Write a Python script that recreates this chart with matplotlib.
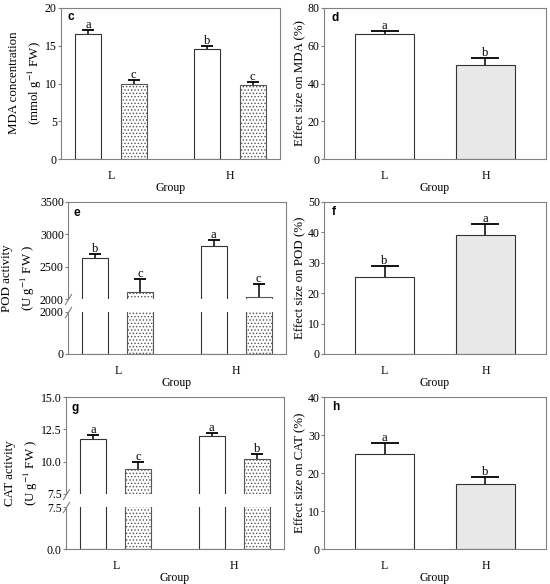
import numpy as np
import matplotlib
matplotlib.use('Agg')
import matplotlib.pyplot as plt
from matplotlib.lines import Line2D
from matplotlib.ticker import FormatStrFormatter

plt.rcParams['font.family'] = ['Liberation Serif', 'DejaVu Serif']
plt.rcParams['mathtext.fontset'] = 'stix'
plt.rcParams['font.size'] = 8.5
plt.rcParams['axes.edgecolor'] = '#808080'
plt.rcParams['axes.linewidth'] = 0.8
plt.rcParams['ytick.color'] = '#808080'
plt.rcParams['ytick.labelcolor'] = 'black'
plt.rcParams['ytick.major.size'] = 2
plt.rcParams['ytick.major.width'] = 0.8
plt.rcParams['ytick.major.pad'] = 1
plt.rcParams['hatch.linewidth'] = 0.6

groups = ['L', 'H']

# MDA
mda_ctrl = [16.55, 14.6]
mda_ctrl_err = [0.55, 0.4]
mda_trt = [9.9, 9.75]
mda_trt_err = [0.5, 0.5]
mda_ctrl_let = ['a', 'b']
mda_trt_let = ['c', 'c']
mda_eff = [66.4, 49.6]
mda_eff_err = [1.6, 3.7]
mda_eff_let = ['a', 'b']
mda_eff_ticks = [0, 20, 40, 60, 80]

# POD
pod_ctrl = [2630, 2825]
pod_ctrl_err = [65, 93]
pod_trt = [2113, 2036]
pod_trt_err = [196, 190]
pod_ctrl_let = ['b', 'a']
pod_trt_let = ['c', 'c']
pod_eff = [25.3, 39.2]
pod_eff_err = [3.6, 3.4]
pod_eff_let = ['b', 'a']
pod_eff_ticks = [0, 10, 20, 30, 40, 50]

# CAT
cat_ctrl = [11.75, 11.96]
cat_ctrl_err = [0.31, 0.23]
cat_trt = [9.41, 10.2]
cat_trt_err = [0.54, 0.37]
cat_ctrl_let = ['a', 'a']
cat_trt_let = ['c', 'b']
cat_eff = [25.0, 17.1]
cat_eff_err = [2.8, 1.75]
cat_eff_let = ['a', 'b']
cat_eff_ticks = [0, 10, 20, 30, 40]

W, H = 550, 584
fig = plt.figure(figsize=(W / 100, H / 100), dpi=100)


def rect(x0, y0, x1, y1):
    return [x0 / W, 1 - y1 / H, (x1 - x0) / W, (y1 - y0) / H]


x = np.arange(len(groups))
off, bw = 0.19, 0.22
edge = '#333333'


def up_err(ax, xs, ys, es, cap):
    eb = ax.errorbar(xs, ys, yerr=[np.zeros(len(es)), es], fmt='none',
                     ecolor='black', elinewidth=1.1, capsize=cap, capthick=1.3)
    eb[1][0].set_visible(False)


def letters(ax, xs, ys, es, labs):
    for xi, yi, ei, s in zip(xs, ys, es, labs):
        ax.annotate(s, (xi, yi + ei), xytext=(0, 1.5), textcoords='offset points',
                    ha='center', va='baseline', fontsize=9)


def panel_tag(ax, s, dx=7, dy=10):
    ax.annotate(s, (0, 1), xycoords='axes fraction', xytext=(dx, -dy),
                textcoords='offset pixels', ha='left', va='center',
                fontfamily='Liberation Sans', fontweight='bold', fontsize=8.5)


def pair_bars(ax, ctrl, trt):
    ax.bar(x - off, ctrl, bw, color='white', edgecolor=edge, linewidth=0.8)
    ax.bar(x + off, trt, bw, color='white', edgecolor='#555555', hatch='.....', linewidth=0.8)
    ax.set_xlim(-0.42, 1.42)


def xgroup(ax):
    ax.set_xticks(x)
    ax.set_xticklabels(groups)
    ax.tick_params(axis='x', length=0, pad=8)
    ax.set_xlabel('Group', labelpad=0)


def effect_panel(ax, vals, errs, labs, ticks, ylabel, tag):
    ax.bar(x, vals, 0.58, color=['white', '#e8e8e8'], edgecolor=edge, linewidth=0.8)
    up_err(ax, x, vals, errs, 10)
    letters(ax, x, vals, errs, labs)
    ax.set_xlim(-0.6, 1.6)
    ax.set_ylim(ticks[0], ticks[-1])
    ax.set_yticks(ticks)
    ax.set_ylabel(ylabel, fontsize=9.3)
    ax.yaxis.set_label_coords(-0.08, 0.5)
    xgroup(ax)
    panel_tag(ax, tag, 8, 10)


def broken_panel(x0, x1, y_top, y_brk1, y_brk2, y_bot, ctrl, ctrl_err, trt, trt_err,
                 clet, tlet, lo_lim, hi_lim, hi_ticks, fmt, tag):
    ax_hi = fig.add_axes(rect(x0, y_top, x1, y_brk1))
    ax_lo = fig.add_axes(rect(x0, y_brk2, x1, y_bot))
    for ax in (ax_hi, ax_lo):
        pair_bars(ax, ctrl, trt)
        if fmt:
            ax.yaxis.set_major_formatter(FormatStrFormatter(fmt))
    ax_hi.set_ylim(*hi_lim)
    ax_hi.set_yticks(hi_ticks)
    ax_lo.set_ylim(*lo_lim)
    ax_lo.set_yticks(lo_lim)
    ax_hi.spines['bottom'].set_visible(False)
    ax_lo.spines['top'].set_visible(False)
    ax_hi.set_xticks([])
    up_err(ax_hi, x - off, ctrl, ctrl_err, 4.5)
    up_err(ax_hi, x + off, trt, trt_err, 4.5)
    letters(ax_hi, x - off, ctrl, ctrl_err, clet)
    letters(ax_hi, x + off, trt, trt_err, tlet)
    xgroup(ax_lo)
    # continuous right frame across the gap
    fig.add_artist(Line2D([x1 / W, x1 / W], [1 - y_brk1 / H, 1 - y_brk2 / H],
                          transform=fig.transFigure, color='#808080', lw=0.8))
    mk = dict(marker=[(-0.6, -1), (0.6, 1)], markersize=8, linestyle='none',
              color='#808080', mec='#808080', mew=0.8, clip_on=False)
    ax_hi.plot([0], [0], transform=ax_hi.transAxes, **mk)
    ax_lo.plot([0], [1], transform=ax_lo.transAxes, **mk)
    panel_tag(ax_hi, tag, 5, 11)
    return ax_hi, ax_lo


lab_kw = dict(rotation=90, ha='center', va='center', fontsize=9.3, linespacing=1.5,
              multialignment='center')

# c: MDA concentration
ax_c = fig.add_axes(rect(61, 8, 280, 159))
pair_bars(ax_c, mda_ctrl, mda_trt)
up_err(ax_c, x - off, mda_ctrl, mda_ctrl_err, 4.5)
up_err(ax_c, x + off, mda_trt, mda_trt_err, 4.5)
letters(ax_c, x - off, mda_ctrl, mda_ctrl_err, mda_ctrl_let)
letters(ax_c, x + off, mda_trt, mda_trt_err, mda_trt_let)
ax_c.set_ylim(0, 20)
ax_c.set_yticks([0, 5, 10, 15, 20])
xgroup(ax_c)
panel_tag(ax_c, 'c', 6, 9)
fig.text(26 / W, 1 - 83 / H, 'MDA concentration\n(mmol g$^{-1}$ FW)', **lab_kw)

# d: effect on MDA
ax_d = fig.add_axes(rect(324, 8, 546, 159))
effect_panel(ax_d, mda_eff, mda_eff_err, mda_eff_let, mda_eff_ticks, 'Effect size on MDA (%)', 'd')

# e: POD activity (broken axis)
broken_panel(68, 286, 202, 299, 312, 354, pod_ctrl, pod_ctrl_err, pod_trt, pod_trt_err,
             pod_ctrl_let, pod_trt_let, (0, 2000), (2000, 3500), [2000, 2500, 3000, 3500],
             None, 'e')
fig.text(19 / W, 1 - 278 / H, 'POD activity\n(U g$^{-1}$ FW )', **lab_kw)

# f: effect on POD
ax_f = fig.add_axes(rect(324, 202, 546, 354))
effect_panel(ax_f, pod_eff, pod_eff_err, pod_eff_let, pod_eff_ticks, 'Effect size on POD (%)', 'f')

# g: CAT activity (broken axis)
broken_panel(66, 284, 397, 494, 507, 549, cat_ctrl, cat_ctrl_err, cat_trt, cat_trt_err,
             cat_ctrl_let, cat_trt_let, (0, 7.5), (7.5, 15), [7.5, 10, 12.5, 15],
             '%.1f', 'g')
fig.text(22 / W, 1 - 473 / H, 'CAT activity\n(U g$^{-1}$ FW )', **lab_kw)

# h: effect on CAT
ax_h = fig.add_axes(rect(324, 397, 546, 549))
effect_panel(ax_h, cat_eff, cat_eff_err, cat_eff_let, cat_eff_ticks, 'Effect size on CAT (%)', 'h')

fig.savefig('out.png', dpi=100)
